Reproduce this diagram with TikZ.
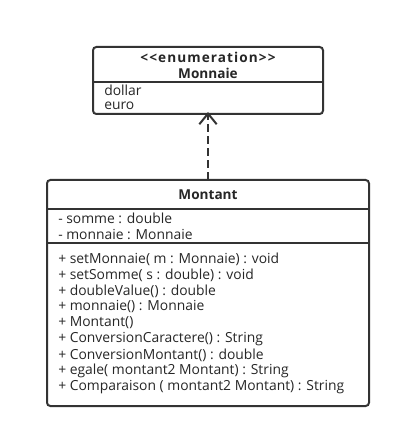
\documentclass[tikz,border=0pt]{standalone}
\usepackage{fontspec}
\setmainfont{Open Sans}
\usetikzlibrary{arrows.meta}
\begin{document}
\begin{tikzpicture}[x=0.75pt,y=-0.75pt,
  box/.style={draw=black!80,line width=1.5pt,rounded corners=2.5pt},
  sep/.style={draw=black!80,line width=1.5pt},
  txt/.style={anchor=west,inner sep=0pt,font=\fontsize{10.4}{12}\selectfont,text=black!85},
  ttl/.style={inner sep=0pt,font=\fontsize{10.2}{12}\selectfont\bfseries,text=black!85},
  dep/.style={draw=black!80,line width=1.5pt,dash pattern=on 6pt off 3pt,
    -{Straight Barb[length=8pt,width=13pt,line width=1.5pt]}}]
\useasboundingbox (0,0) rectangle (401,438);
% Monnaie
\path[box] (93,47) rectangle (323,114);
\coordinate (mnb) at (208,114);
\draw[sep] (93,82) -- (323,82);
\node[ttl] (st) at (208,57) {\addfontfeatures{LetterSpace=8}{<}{<}enumeration{>}{>}};
\node[ttl] (mn) at (208,73) {Monnaie};
\node[txt] (d) at (104,90) {dollar};
\node[txt] (e) at (104,106) {euro};
% Montant
\path[box] (47,180) rectangle (369,406);
\coordinate (mtt) at (208,180);
\draw[sep] (47,209) -- (369,209);
\draw[sep] (47,243) -- (369,243);
\node[ttl] (mt) at (208,195) {Montant};
\node[txt] (a1) at (58,218) {- somme : double};
\node[txt] (a2) at (58,235) {- monnaie : Monnaie};
\node[txt] (m1) at (58,259) {+ setMonnaie( m : Monnaie) : void};
\node[txt] (m2) at (58,275) {+ setSomme( s : double) : void};
\node[txt] (m3) at (58,291) {+ doubleValue() : double};
\node[txt] (m4) at (58,307) {+ monnaie() : Monnaie};
\node[txt] (m5) at (58,323) {+ Montant()};
\node[txt] (m6) at (58,339) {+ ConversionCaractere() : String};
\node[txt] (m7) at (58,355) {+ ConversionMontant() : double};
\node[txt] (m8) at (58,371) {+ egale( montant2 Montant) : String};
\node[txt] (m9) at (58,387) {+ Comparaison ( montant2 Montant) : String};
\draw[dep] (mtt) -- ([yshift=1.5pt]mnb);
\end{tikzpicture}
\end{document}
